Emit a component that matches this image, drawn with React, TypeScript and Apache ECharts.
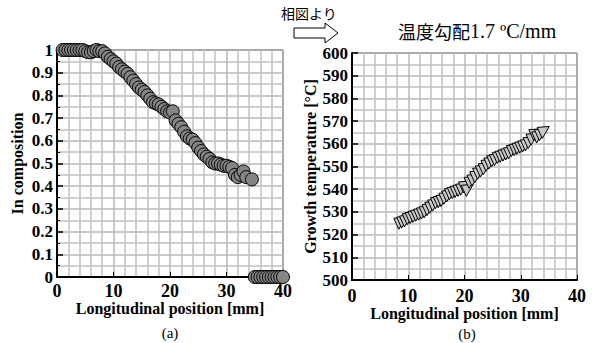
import React, { useEffect, useRef } from "react";
import * as echarts from "echarts";

// (a) In composition vs longitudinal position
const posA = [1, 1.5, 2, 2.5, 3, 3.5, 4, 4.5, 5, 5.5, 6, 6.5, 7, 7.5, 8, 8.5, 9, 9.5, 10, 10.5, 11, 11.5, 12, 12.5, 13, 13.5, 14, 14.5, 15, 15.5, 16, 16.5, 17, 17.5, 18, 18.5, 19, 19.5, 20, 20.5, 21, 21.5, 22, 22.5, 23, 23.5, 24, 24.5, 25, 25.5, 26, 26.5, 27, 27.5, 28, 28.5, 29, 29.5, 30, 30.5, 31, 31.5, 32, 32.5, 33, 33.5, 34.5, 35, 35.5, 36, 36.5, 37, 37.5, 38, 38.5, 39, 39.5, 40];
const compA = [1, 1, 1, 1, 1, 1, 1, 1, 0.995, 0.99, 0.99, 0.995, 1, 0.995, 0.995, 0.985, 0.97, 0.96, 0.95, 0.94, 0.925, 0.915, 0.905, 0.895, 0.88, 0.865, 0.85, 0.835, 0.825, 0.815, 0.8, 0.785, 0.77, 0.765, 0.76, 0.75, 0.74, 0.73, 0.725, 0.73, 0.69, 0.675, 0.66, 0.64, 0.62, 0.61, 0.605, 0.59, 0.57, 0.555, 0.54, 0.53, 0.52, 0.505, 0.5, 0.5, 0.495, 0.49, 0.49, 0.485, 0.48, 0.45, 0.44, 0.45, 0.465, 0.44, 0.43, 0, 0, 0, 0, 0, 0, 0, 0, 0, 0, 0, 0];

// (b) Growth temperature vs longitudinal position
const posB = [8.5, 9, 9.5, 10, 10.5, 11, 11.5, 12, 12.5, 13, 13.5, 14, 14.5, 15, 15.5, 16, 16.5, 17, 17.5, 18, 18.5, 19, 19.5, 20, 20.5, 21, 21.5, 22, 22.5, 23, 23.5, 24, 24.5, 25, 25.5, 26, 26.5, 27, 27.5, 28, 28.5, 29, 29.5, 30, 30.5, 31, 31.5, 32, 32.5, 33, 33.5, 34];
const tempB = [525, 525.5, 526, 527, 527.5, 528, 528.5, 529, 529.5, 530, 531, 532, 533, 534, 534.5, 535, 536, 537, 538, 538.5, 539, 539.5, 540, 541, 539.5, 543, 544, 545.5, 547, 548, 549, 550.5, 551.5, 552.5, 553, 554, 554.5, 555, 555.5, 556, 557, 557.5, 558, 558.5, 559, 559.5, 560.5, 562, 564, 563, 564, 565];

const xTicks = [0, 10, 20, 30, 40];

const SERIF = "'Liberation Serif', 'Times New Roman', serif";
const SANS = "'Noto Sans CJK JP', 'Noto Sans', sans-serif";

function xAxisCfg(gridIndex: number, labelMargin: number, nameGap: number) {
  return {
    type: "value",
    gridIndex,
    min: xTicks[0],
    max: xTicks[xTicks.length - 1],
    interval: 10,
    name: "Longitudinal position [mm]",
    nameLocation: "middle",
    nameGap,
    nameMoveOverlap: false,
    nameTextStyle: { fontFamily: SERIF, fontWeight: "bold", fontSize: 16, color: "#000", lineHeight: 16 },
    axisLine: { show: true, lineStyle: { color: "#000", width: 2 } },
    axisTick: { show: true, inside: true, length: 5, lineStyle: { color: "#000", width: 1 } },
    minorTick: { show: false, splitNumber: 5 },
    axisLabel: { fontFamily: SERIF, fontWeight: "bold", fontSize: 18, lineHeight: 16, color: "#000", margin: labelMargin },
    splitLine: { show: true, lineStyle: { color: "#b8b8b8", width: 1.5 } },
    minorSplitLine: { show: true, lineStyle: { color: "#c0c0c0", width: 1.5 } },
  };
}

export default function App() {
  const ref = useRef<HTMLDivElement>(null);
  useEffect(() => {
    if (!ref.current) return;
    const chart = echarts.init(ref.current, null, { renderer: "svg" });
    const dataA = posA.map((x, i) => [x, compA[i]]);
    const dataB = posB.map((x, i) => [x, tempB[i]]);
    chart.setOption({
      animation: false,
      backgroundColor: "#fff",
      grid: [
        { left: 57, top: 50, width: 226, height: 227, show: true, borderColor: "#000", borderWidth: 1, backgroundColor: "transparent" },
        { left: 352, top: 53, width: 225, height: 227, show: true, borderColor: "#000", borderWidth: 1, backgroundColor: "transparent" },
      ],
      xAxis: [xAxisCfg(0, 6, 23), xAxisCfg(1, 8, 25)],
      yAxis: [
        {
          type: "value",
          gridIndex: 0,
          min: 0,
          max: 1,
          interval: 0.1,
          name: "In composition",
          nameLocation: "middle",
          nameGap: 32,
          nameMoveOverlap: false,
          nameTextStyle: { fontFamily: SERIF, fontWeight: "bold", fontSize: 16, color: "#000" },
          axisLine: { show: true, lineStyle: { color: "#000", width: 2 } },
          axisTick: { show: true, inside: true, length: 6, lineStyle: { color: "#000", width: 1.5 } },
          minorTick: { show: true, splitNumber: 2, length: 3, lineStyle: { color: "#000", width: 1 } },
          axisLabel: {
            fontFamily: SERIF, fontWeight: "bold", fontSize: 17, color: "#000", margin: 4,
            formatter: (v: number) => String(Math.round(v * 10) / 10),
          },
          splitLine: { show: true, lineStyle: { color: "#b8b8b8", width: 1.5 } },
          minorSplitLine: { show: true, lineStyle: { color: "#c0c0c0", width: 1.5 } },
        },
        {
          type: "value",
          gridIndex: 1,
          min: 500,
          max: 600,
          interval: 10,
          name: "Growth temperature [°C]",
          nameLocation: "middle",
          nameGap: 34,
          nameMoveOverlap: false,
          nameTextStyle: { fontFamily: SERIF, fontWeight: "bold", fontSize: 16, color: "#000" },
          axisLine: { show: true, lineStyle: { color: "#000", width: 2 } },
          axisTick: { show: true, inside: true, length: 6, lineStyle: { color: "#000", width: 1.5 } },
          minorTick: { show: false, splitNumber: 2 },
          axisLabel: { fontFamily: SERIF, fontWeight: "bold", fontSize: 17, color: "#000", margin: 4 },
          splitLine: { show: true, lineStyle: { color: "#b8b8b8", width: 1.5 } },
          minorSplitLine: { show: true, lineStyle: { color: "#c0c0c0", width: 1.5 } },
        },
      ],
      series: [
        {
          type: "scatter",
          xAxisIndex: 0,
          yAxisIndex: 0,
          data: dataA,
          symbol: "circle",
          symbolSize: 13,
          clip: false,
          itemStyle: { color: "#858585", borderColor: "#000", borderWidth: 1, opacity: 1 },
        },
        {
          type: "scatter",
          xAxisIndex: 1,
          yAxisIndex: 1,
          data: dataB,
          symbol: "path://M0,0 L12,-1 L5,11 Z",
          symbolSize: [12, 12],
          symbolKeepAspect: true,
          clip: false,
          itemStyle: { color: "#c8c8c8", borderColor: "#000", borderWidth: 1, opacity: 1 },
        },
      ],
      graphic: [
        {
          type: "text",
          left: 281,
          top: 6,
          style: { text: "相図より", fontFamily: SANS, fontSize: 14, fill: "#000" },
        },
        {
          type: "polygon",
          shape: {
            points: [
              [294, 28], [325, 28], [325, 23], [338, 33], [325, 43], [325, 38], [294, 38],
            ],
          },
          style: { fill: "#fff", stroke: "#000", lineWidth: 1 },
        },
        {
          type: "text",
          left: 398,
          top: 21,
          style: {
            text: "{c|温度勾配}{s|1.7 ºC/mm}",
            rich: {
              c: { fontFamily: SANS, fontSize: 18, fill: "#000" },
              s: { fontFamily: SERIF, fontSize: 20, fill: "#000" },
            },
          },
        },
        {
          type: "text",
          x: 170,
          y: 333,
          style: { text: "(a)", fontFamily: SERIF, fontSize: 15, fill: "#000", align: "center", verticalAlign: "middle" },
        },
        {
          type: "text",
          x: 467,
          y: 334,
          style: { text: "(b)", fontFamily: SERIF, fontSize: 15, fill: "#000", align: "center", verticalAlign: "middle" },
        },
      ],
    });
    return () => chart.dispose();
  }, []);
  return <div ref={ref} style={{ width: 592, height: 343, position: "absolute", left: 0, top: 0 }} />;
}
